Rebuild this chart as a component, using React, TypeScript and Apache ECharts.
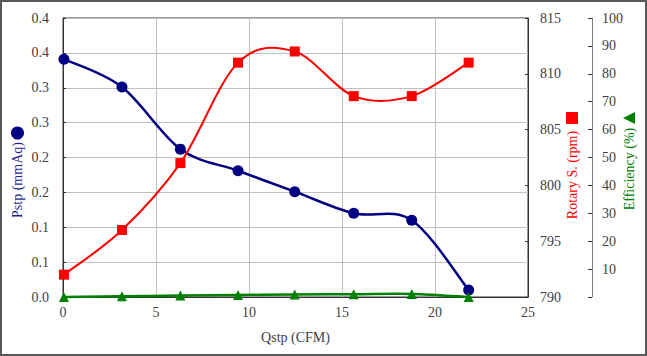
import React, { useEffect, useRef } from "react";
import * as echarts from "echarts";

const qstp = [0.05, 3.17, 6.31, 9.41, 12.46, 15.63, 18.75, 21.81];
const pstp = [0.341, 0.301, 0.212, 0.181, 0.151, 0.12, 0.11, 0.01];
const rotary = [792, 796, 802, 811, 812, 808, 808, 811];
const efficiency = [0, 0.3, 0.5, 0.7, 0.9, 1.0, 1.1, 0];

const pstpTickLabels = ["0.0", "0.1", "0.1", "0.2", "0.2", "0.3", "0.3", "0.4", "0.4"];
const effTickLabels = ["", "10", "20", "30", "40", "50", "60", "70", "80", "90", "100"];

const FONT = "Liberation Serif";
const LABEL_COLOR = "#404040";
const BLUE = "#000080";
const RED = "#FF0000";
const GREEN = "#008000";

// Smooth curve (Catmull-Rom style, like spreadsheet smoothed lines) drawn through data via axis scales
function curveSeries(ys: number[], yAxisIndex: number, color: string, width: number) {
  return {
    type: "custom",
    yAxisIndex,
    z: 1,
    silent: true,
    data: [[qstp[0], ys[0]]],
    renderItem: (_params: any, api: any) => {
      const pts = qstp.map((x, i) => api.coord([x, ys[i]]));
      const n = pts.length;
      const children: any[] = [];
      for (let i = 0; i < n - 1; i++) {
        const p0 = pts[Math.max(0, i - 1)];
        const p1 = pts[i];
        const p2 = pts[i + 1];
        const p3 = pts[Math.min(n - 1, i + 2)];
        children.push({
          type: "bezierCurve",
          shape: {
            x1: p1[0],
            y1: p1[1],
            x2: p2[0],
            y2: p2[1],
            cpx1: p1[0] + (p2[0] - p0[0]) / 6,
            cpy1: p1[1] + (p2[1] - p0[1]) / 6,
            cpx2: p2[0] - (p3[0] - p1[0]) / 6,
            cpy2: p2[1] - (p3[1] - p1[1]) / 6,
          },
          style: { stroke: color, lineWidth: width, fill: "none" },
        });
      }
      return { type: "group", children };
    },
  };
}

export default function App() {
  const ref = useRef<HTMLDivElement>(null);
  useEffect(() => {
    if (!ref.current) return;
    const chart = echarts.init(ref.current, null, { renderer: "svg" });
    const pair = (ys: number[]) => qstp.map((x, i) => [x, ys[i]]);
    const labelStyle = { color: LABEL_COLOR, fontFamily: FONT, fontSize: 14 };
    const markerSeries = (name: string, ys: number[], yAxisIndex: number, symbol: string, size: number, color: string) => ({
      name,
      type: "line",
      yAxisIndex,
      data: pair(ys),
      symbol,
      symbolSize: size,
      z: 3,
      lineStyle: { width: 0, opacity: 0 },
      itemStyle: { color },
    });
    chart.setOption({
      animation: false,
      backgroundColor: "#ffffff",
      textStyle: { fontFamily: FONT },
      grid: { left: 63, top: 18, width: 465, height: 279, show: true, borderColor: "#333", borderWidth: 1, backgroundColor: "transparent" },
      xAxis: {
        type: "value",
        min: 0,
        max: 25,
        interval: 5,
        name: "Qstp (CFM)",
        nameLocation: "middle",
        nameGap: 33,
        nameTextStyle: { color: LABEL_COLOR, fontFamily: FONT, fontSize: 14 },
        axisLine: { show: true, lineStyle: { color: "#333", width: 1 } },
        axisTick: { show: false },
        axisLabel: { ...labelStyle, margin: 8 },
        splitLine: { show: true, lineStyle: { color: "#c0c0c0", width: 1 } },
      },
      yAxis: [
        {
          type: "value",
          min: 0,
          max: 0.4,
          interval: 0.05,
          position: "left",
          axisLine: { show: true, lineStyle: { color: "#333", width: 1 } },
          axisTick: { show: true, inside: true, length: 3, lineStyle: { color: "#333" } },
          axisLabel: { ...labelStyle, margin: 14, formatter: (_v: number, i: number) => pstpTickLabels[i] ?? "" },
          splitLine: { show: true, lineStyle: { color: "#c0c0c0", width: 1 } },
        },
        {
          type: "value",
          min: 790,
          max: 815,
          interval: 5,
          position: "right",
          axisLine: { show: true, lineStyle: { color: "#333", width: 1 } },
          axisTick: { show: true, inside: true, length: 3, lineStyle: { color: "#333" } },
          axisLabel: { ...labelStyle, margin: 12 },
          splitLine: { show: false },
        },
        {
          type: "value",
          min: 0,
          max: 100,
          interval: 10,
          position: "right",
          offset: 64,
          axisLine: { show: true, lineStyle: { color: "#808080", width: 1 } },
          axisTick: { show: true, inside: true, length: 4, lineStyle: { color: "#333" } },
          axisLabel: { ...labelStyle, margin: 10, formatter: (_v: number, i: number) => effTickLabels[i] ?? "" },
          splitLine: { show: false },
        },
      ],
      series: [
        curveSeries(pstp, 0, BLUE, 2.5),
        curveSeries(rotary, 1, RED, 2),
        curveSeries(efficiency, 2, GREEN, 2.5),
        markerSeries("Pstp", pstp, 0, "circle", 11, BLUE),
        markerSeries("Rotary S.", rotary, 1, "rect", 10, RED),
        markerSeries("Efficiency", efficiency, 2, "triangle", 10, GREEN),
      ],
      graphic: [
        {
          type: "rect",
          shape: { x: 1, y: 1, width: 645, height: 354 },
          style: { fill: "none", stroke: "#595959", lineWidth: 2 },
          silent: true,
        },
        {
          type: "text",
          x: 17.5,
          y: 180,
          rotation: Math.PI / 2,
          style: { text: "Pstp (mmAq)", fill: "#1f1f8f", font: `14px ${FONT}`, align: "center", verticalAlign: "middle" },
        },
        { type: "circle", shape: { cx: 17.5, cy: 133, r: 6.5 }, style: { fill: BLUE } },
        {
          type: "text",
          x: 572,
          y: 175,
          rotation: Math.PI / 2,
          style: { text: "Rotary S. (rpm)", fill: RED, font: `14px ${FONT}`, align: "center", verticalAlign: "middle" },
        },
        { type: "rect", shape: { x: 566, y: 112, width: 12, height: 12 }, style: { fill: RED } },
        {
          type: "text",
          x: 629,
          y: 169,
          rotation: Math.PI / 2,
          style: { text: "Efficiency (%)", fill: GREEN, font: `14px ${FONT}`, align: "center", verticalAlign: "middle" },
        },
        {
          type: "polygon",
          shape: { points: [[623, 118], [635, 112], [635, 124]] },
          style: { fill: GREEN },
        },
      ],
    });
    return () => chart.dispose();
  }, []);
  return <div ref={ref} style={{ position: "fixed", left: 0, top: 0, width: 647, height: 356 }} />;
}
